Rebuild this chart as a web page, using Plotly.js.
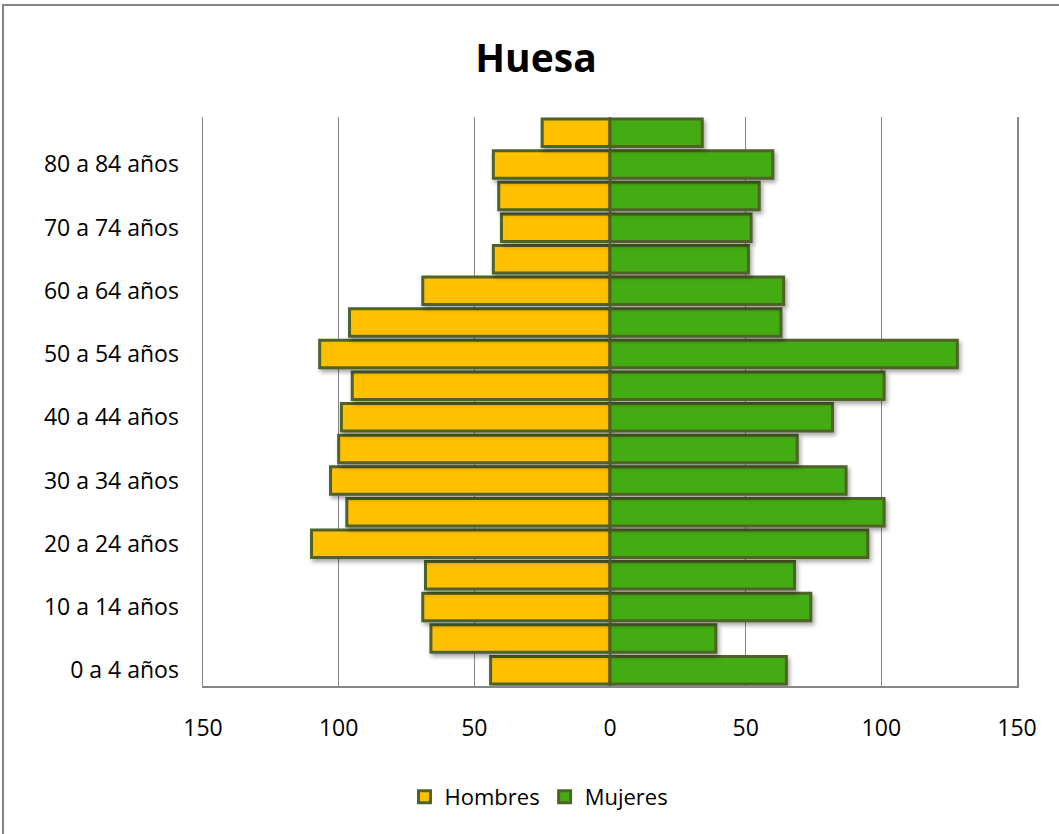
<!DOCTYPE html>
<html>
<head>
<meta charset="utf-8">
<script src="https://cdn.plot.ly/plotly-3.0.1.min.js"></script>
<style>
html,body{margin:0;padding:0;background:#fff;}
#chart{width:1059px;height:834px;}
.trace.bars path{filter:drop-shadow(2px 3px 2px rgba(0,0,0,0.35));}
</style>
</head>
<body>
<div id="chart"></div>
<script>
const categories = ["0 a 4 años","5 a 9 años","10 a 14 años","15 a 19 años","20 a 24 años","25 a 29 años",
  "30 a 34 años","35 a 39 años","40 a 44 años","45 a 49 años","50 a 54 años","55 a 59 años",
  "60 a 64 años","65 a 69 años","70 a 74 años","75 a 79 años","80 a 84 años","85 y más años"];
const hombres = [44, 66, 69, 68, 110, 97, 103, 100, 99, 95, 107, 96, 69, 43, 40, 41, 43, 25];
const mujeres = [65, 39, 74, 68, 95, 101, 87, 69, 82, 101, 128, 63, 64, 51, 52, 55, 60, 34];
const yTickLabels = ["0 a 4 años","10 a 14 años","20 a 24 años","30 a 34 años","40 a 44 años",
  "50 a 54 años","60 a 64 años","70 a 74 años","80 a 84 años"];
const xTickVals = [-150,-100,-50,0,50,100,150];
const xTickText = ["150","100","50","0","50","100","150"];

const FONT = "Open Sans, Liberation Sans, sans-serif";
const edge = "#4F6228";

const traces = [
  {type:"bar", orientation:"h", name:"Hombres", y:categories, x:hombres.map(v=>-v),
   marker:{color:"#FFC000", line:{color:edge, width:3}}},
  {type:"bar", orientation:"h", name:"Mujeres", y:categories, x:mujeres,
   marker:{color:"#43AC12", line:{color:edge, width:3}}}
];

const W = 1059, H = 834, L = 203, R = 42, T = 117, B = 148;
const pw = W - L - R, ph = H - T - B;

const layout = {
  width:W, height:H,
  margin:{l:L, r:R, t:T, b:B, pad:0},
  paper_bgcolor:"#fff", plot_bgcolor:"#fff",
  font:{family:FONT, size:23, color:"#000"},
  title:{text:"<b>Huesa</b>", font:{family:FONT, size:39, color:"#000"},
         x:536/W, xref:"container", xanchor:"center", y:1-58/H, yref:"container", yanchor:"middle"},
  barmode:"relative", bargap:0.13,
  showlegend:true,
  legend:{orientation:"h", x:(539-L)/pw, xanchor:"center", y:(T+ph-797)/ph, yanchor:"middle",
          font:{family:FONT, size:22, color:"#000"}, traceorder:"normal", itemwidth:20},
  hovermode:false,
  xaxis:{range:[-150,150], tickvals:xTickVals, ticktext:xTickText,
         showgrid:true, gridcolor:"#868686", gridwidth:1.3,
         zeroline:true, zerolinecolor:"#868686", zerolinewidth:1.3,
         showline:true, linecolor:"#868686", linewidth:1.5,
         ticks:"outside", ticklen:21, tickcolor:"rgba(0,0,0,0)",
         tickfont:{family:FONT, size:23, color:"#000"}, fixedrange:true},
  yaxis:{type:"category", categoryorder:"array", categoryarray:categories,
         tickvals:yTickLabels, ticktext:yTickLabels,
         showgrid:false, zeroline:false,
         showline:true, mirror:true, linecolor:"#868686", linewidth:1.5,
         ticks:"outside", ticklen:18, tickcolor:"rgba(0,0,0,0)",
         tickfont:{family:FONT, size:23, color:"#000"}, fixedrange:true},
  shapes:[{type:"rect", xref:"paper", yref:"paper",
           x0:(3-L)/pw, x1:(W+10-L)/pw, y0:(T+ph-(H+10))/ph, y1:(T+ph-5)/ph,
           line:{color:"#868686", width:2}, fillcolor:"rgba(0,0,0,0)", layer:"below"}]
};

Plotly.newPlot("chart", traces, layout, {displayModeBar:false, staticPlot:true});
</script>
</body>
</html>
